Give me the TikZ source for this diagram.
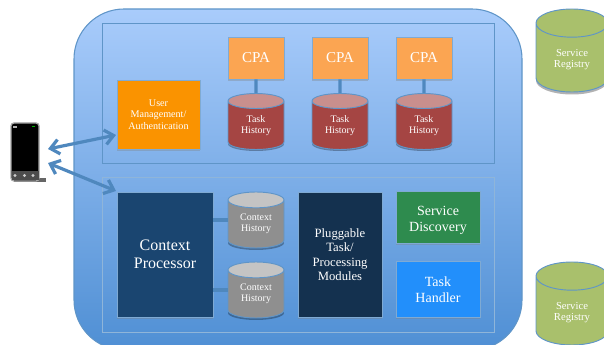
\documentclass[tikz,border=0pt]{standalone}
\usepackage{fontspec}
\setmainfont{Liberation Serif}
\usetikzlibrary{shapes.geometric,shadows,arrows.meta}

\definecolor{panelTop}{HTML}{A9CCFB}
\definecolor{panelBot}{HTML}{4F8FD4}
\definecolor{edgeBlue}{HTML}{5F95C8}
\definecolor{linkBlue}{HTML}{4F88BE}
\definecolor{cpaOrange}{HTML}{FBA552}
\definecolor{userOrange}{HTML}{FA9300}
\definecolor{taskRed}{HTML}{A54543}
\definecolor{taskTop}{HTML}{C98F8D}
\definecolor{ctxGray}{HTML}{8F8F8F}
\definecolor{ctxTop}{HTML}{C4C4C4}
\definecolor{regGreen}{HTML}{A9C06C}
\definecolor{procBlue}{HTML}{1A4570}
\definecolor{plugBlue}{HTML}{14314F}
\definecolor{discGreen}{HTML}{2E8B4E}
\definecolor{handBlue}{HTML}{228FFB}

% one reference pixel
\newlength{\pxu}
\setlength{\pxu}{0.75pt}

\tikzset{
  box/.style={draw=edgeBlue!80, line width=0.5pt, align=center, text=white,
              inner sep=1pt, drop shadow={shadow xshift=0pt, shadow yshift=-1.5pt, opacity=0.35}},
  cpabox/.style={box, fill=cpaOrange, minimum width=56\pxu, minimum height=42\pxu, font=\fontsize{11.3}{12}\selectfont},
  link/.style={draw=linkBlue, line width=2.6pt},
  dblarrow/.style={draw=linkBlue, line width=2.4pt, {Straight Barb[length=6.5pt,width=11pt]}-{Straight Barb[length=6.5pt,width=11pt]}},
  tank/.style={cylinder, shape border rotate=90, draw=edgeBlue, line width=0.7pt, anchor=shape center,
               align=center, text=white, inner sep=0pt, cylinder uses custom fill},
  taskdb/.style={tank, aspect=0.5, cylinder body fill=taskRed, cylinder end fill=taskTop,
                 minimum width=56\pxu, minimum height=56\pxu, font=\fontsize{7.5}{8.3}\selectfont},
  ctxdb/.style={tank, aspect=0.5, cylinder body fill=ctxGray, cylinder end fill=ctxTop,
                minimum width=56\pxu, minimum height=56\pxu, font=\fontsize{7.5}{8.3}\selectfont},
  regdb/.style={tank, aspect=0.78, cylinder body fill=regGreen, cylinder end fill=regGreen,
                minimum width=72\pxu, minimum height=83\pxu, font=\fontsize{8}{8.5}\selectfont},
  tankshade/.style={fill=black, opacity=0.3},
}

\begin{document}
\begin{tikzpicture}[x=0.75pt, y=-0.75pt]
\useasboundingbox (0,0) rectangle (604,345);

% big panel, runs off the bottom edge
\begin{scope}
  \clip (0,0) rectangle (604,345);
  \node (panel) [draw=edgeBlue, line width=0.8pt, rounded corners=50\pxu, top color=panelTop, bottom color=panelBot,
    minimum width=448\pxu, minimum height=341\pxu, inner sep=0pt] at (298,179.5) {};
\end{scope}

\node (upper) [draw=edgeBlue, line width=0.7pt, minimum width=392\pxu, minimum height=140\pxu, inner sep=0pt] at (298,93) {};
\node (lower) [draw=edgeBlue!70, line width=0.5pt, minimum width=392\pxu, minimum height=155\pxu, inner sep=0pt] at (298,254.5) {};

\node (user) [box, fill=userOrange, minimum width=83\pxu, minimum height=69\pxu,
  font=\fontsize{7.6}{8.8}\selectfont] at (158.5,114.5) {User\\Management/\\Authentication};

\node (cpaA) [cpabox] at (256,58) {CPA};
\node (cpaB) [cpabox] at (340,58) {CPA};
\node (cpaC) [cpabox] at (424,58) {CPA};

% soft shade under the tanks
\foreach \cx/\cy in {256/144, 340/144, 424/144, 256/243, 256/313}
  \fill[tankshade] (\cx,\cy) ellipse (28 and 7);
\fill[tankshade] (572,80.5) ellipse (36 and 14);

\node (taskA) [taskdb] at (256,121.5) {Task\\History};
\node (taskB) [taskdb] at (340,121.5) {Task\\History};
\node (taskC) [taskdb] at (424,121.5) {Task\\History};

\draw[link] (cpaA) -- (taskA.north);
\draw[link] (cpaB) -- (taskB.north);
\draw[link] (cpaC) -- (taskC.north);

\node (proc) [box, fill=procBlue, minimum width=96\pxu, minimum height=125\pxu,
  font=\fontsize{12}{13.5}\selectfont] at (165,254.5) {Context\\Processor};

\node (ctxA) [ctxdb] at (256,220) {Context\\History};
\node (ctxB) [ctxdb] at (256,290) {Context\\History};

\draw[link] (proc.east |- ctxA.shape center) -- (ctxA.west |- ctxA.shape center);
\draw[link] (proc.east |- ctxB.shape center) -- (ctxB.west |- ctxB.shape center);

\node (plug) [box, fill=plugBlue, minimum width=84\pxu, minimum height=125\pxu,
  font=\fontsize{9.5}{10.8}\selectfont] at (340,254.5) {Pluggable\\Task/\\Processing\\Modules};
\node (disc) [box, fill=discGreen, minimum width=84\pxu, minimum height=52\pxu,
  font=\fontsize{10.5}{11.5}\selectfont] at (438,217.5) {\rule{0pt}{11.5pt}Service\\Discovery};
\node (hand) [box, fill=handBlue, minimum width=84\pxu, minimum height=56\pxu,
  font=\fontsize{10.5}{12.3}\selectfont] at (438,289.5) {Task\\Handler};

\node (regA) [regdb] at (572,50.5) {\rule{0pt}{8.5pt}Service\\Registry};
\node (regB) [regdb] at (572,303.5) {\rule{0pt}{8.5pt}Service\\Registry};

% handset
\fill[black!60] (14,178) rectangle (46,182);
\node (phone) [draw=gray!70, fill=black, rounded corners=3\pxu, line width=1pt,
  minimum width=28\pxu, minimum height=58\pxu, inner sep=0pt] at (25,152) {};
\fill[gray!60!black] (11.5,171) rectangle (38.5,180);
\fill[green!70!black] (32,126) rectangle (35,127.5);
\fill[white!70!black] (13,126) rectangle (17,128);
\foreach \bx in {15,24.5,33}
  \fill[white!80!black] (\bx,175.5) circle (1.6);
\coordinate (phoneU) at (48,149);
\coordinate (phoneL) at (48,163);
\draw[dblarrow] (phoneU) -- (116,135);
\draw[dblarrow] (phoneL) -- (116,191);

\end{tikzpicture}
\end{document}
